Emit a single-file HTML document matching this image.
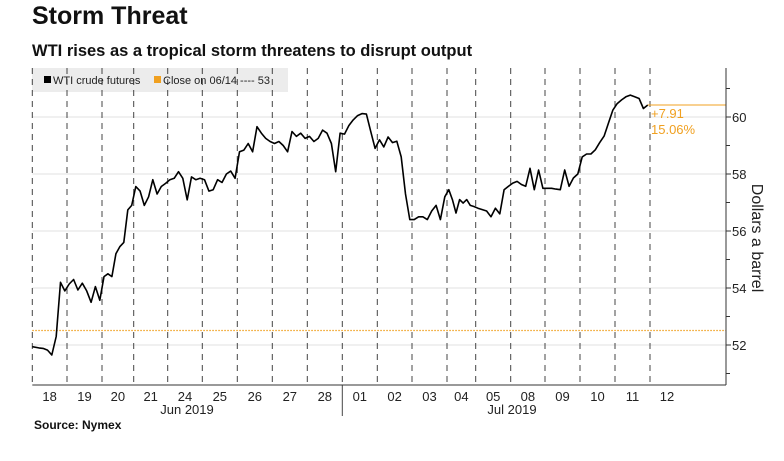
<!DOCTYPE html>
<html><head><meta charset="utf-8">
<style>
body{margin:0;background:#fff;font-family:"Liberation Sans",sans-serif;}
#wrap{position:relative;width:784px;height:461px;overflow:hidden;}
.t{position:absolute;white-space:nowrap;}
</style></head>
<body>
<div id="wrap">
<div class="t" style="left:32px;top:2px;font-size:25px;font-weight:bold;color:#111;">Storm Threat</div>
<div class="t" style="left:32px;top:42px;font-size:16.5px;font-weight:bold;color:#111;">WTI rises as a tropical storm threatens to disrupt output</div>
<div class="t" style="left:34px;top:418px;font-size:12px;font-weight:bold;color:#111;">Source: Nymex</div>
<svg id="chart" width="784" height="461" style="position:absolute;left:0;top:0"></svg>
</div>
<script>
const dayLabels=["18","19","20","21","24","25","26","27","28","01","02","03","04","05","08","09","10","11","12"];
const dayBounds=[32.3,67,102,133.7,167.7,202.3,237.3,272.3,307.3,342.3,377.3,412,447,475.7,510.7,545,580,615,650,684];
const priceByDay=[
[51.94,51.9,51.88,51.82,51.65,52.3,54.2,53.9],
[54.14,54.3,53.93,54.17,53.9,53.5,54.05,53.57],
[54.4,54.5,54.4,55.2,55.45,55.6,56.74,56.9],
[57.56,57.4,56.9,57.2,57.8,57.3,57.56,57.67],
[57.8,57.85,58.08,57.85,57.09,57.9,57.8,57.85],
[57.8,57.4,57.45,57.8,57.7,58.0,58.1,57.85],
[58.78,58.84,59.07,58.78,59.66,59.43,59.25,59.14],
[59.07,59.14,59.0,58.78,59.49,59.32,59.43,59.25],
[59.32,59.14,59.25,59.54,59.43,59.07,58.08,59.43],
[59.4,59.7,59.9,60.05,60.12,60.1,59.5,58.9],
[59.2,58.95,59.3,59.1,59.15,58.6,57.3,56.4],
[56.4,56.5,56.5,56.4,56.7,56.9,56.4,57.2],
[57.45,57.1,56.63,57.1,56.98,57.1,56.9,56.86],
[56.8,56.75,56.7,56.5,56.8,56.6,57.45,57.57],
[57.68,57.74,57.63,57.57,58.2,57.45,58.14,57.5],
[57.5,57.5,57.47,57.45,58.14,57.57,57.86,58.0],
[58.6,58.7,58.7,58.85,59.1,59.33,59.78,60.24],
[60.47,60.6,60.71,60.77,60.71,60.65,60.3,60.42]
];
const yTicks=[52,54,56,58,60];
const yMinor=[51,53,55,57,59,61];
const baseClose=52.51;
const lastClose=60.42;
const changeLabels=["+7.91","15.06%"];

const svg=document.getElementById('chart');
const NS='http://www.w3.org/2000/svg';
const L=32.3,R=726,T=68,B=385;
function y(v){return 345-(v-52)*28.5;}
function add(tag,attrs,text){const e=document.createElementNS(NS,tag);for(const k in attrs)e.setAttribute(k,attrs[k]);if(text!=null)e.textContent=text;svg.appendChild(e);return e;}

// gridlines
yTicks.forEach(v=>{
  const g=add('line',{x1:L,x2:R,y1:y(v),y2:y(v),stroke:'#e2e2e2','stroke-width':1});
  
  
});
// legend background
const lb=add('rect',{x:32,y:68,width:256,height:24,fill:'#ececec'});


// day separators
for(let i=0;i<dayBounds.length-1;i++){
  const x=dayBounds[i];
  const d=add('line',{x1:x,x2:x,y1:T,y2:B,stroke:'#444','stroke-width':1,'stroke-dasharray':'6,5'});
  
  
}
// month separator
const ms=add('line',{x1:342.3,x2:342.3,y1:B,y2:416,stroke:'#444','stroke-width':1});


// baseline dotted
const bl=add('line',{x1:L,x2:R,y1:y(baseClose),y2:y(baseClose),stroke:'#f0a020','stroke-width':1.2,'stroke-dasharray':'1.5,1.5'});


// price path
let pts=[];
priceByDay.forEach((arr,d)=>{
  const x0=dayBounds[d],x1=dayBounds[d+1];
  arr.forEach((v,j)=>{pts.push([x0+(x1-x0)*(j+0.5)/arr.length,y(v)]);});
});
pts[0][0]=dayBounds[0];
const p=add('path',{d:'M'+pts.map(q=>q[0].toFixed(1)+','+q[1].toFixed(1)).join('L'),fill:'none',stroke:'#000','stroke-width':1.6,'stroke-linejoin':'round'});


// last price line
const lastX=pts[pts.length-1][0];
const ll=add('line',{x1:lastX,x2:R,y1:y(lastClose),y2:y(lastClose),stroke:'#f0a020','stroke-width':1});


changeLabels.forEach((s,i)=>{
  const t=add('text',{x:651,y:118+i*16,fill:'#f0a020','font-size':13,'font-family':'Liberation Sans, sans-serif'},s);
  
  
});
// axes
const ax=add('line',{x1:L,x2:R,y1:B,y2:B,stroke:'#333','stroke-width':1});


const ay=add('line',{x1:R,x2:R,y1:T,y2:B,stroke:'#333','stroke-width':1});


yTicks.forEach(v=>{
  const tk=add('line',{x1:R,x2:R+5,y1:y(v),y2:y(v),stroke:'#333'});
  
  
  const tl=add('text',{x:R+6,y:y(v)+5,'font-size':13,fill:'#222','font-family':'Liberation Sans, sans-serif'},String(v));
  
  
});
yMinor.forEach(v=>{
  const tk=add('line',{x1:R,x2:R+4,y1:y(v),y2:y(v),stroke:'#333'});
  
  
});
dayLabels.forEach((s,i)=>{
  const cx=(dayBounds[i]+dayBounds[i+1])/2;
  const tl=add('text',{x:cx,y:401,'text-anchor':'middle','font-size':13,fill:'#222','font-family':'Liberation Sans, sans-serif'},s);
  
  
});
const m1=add('text',{x:187,y:414,'text-anchor':'middle','font-size':13,fill:'#222','font-family':'Liberation Sans, sans-serif'},'Jun 2019');


const m2=add('text',{x:512,y:414,'text-anchor':'middle','font-size':13,fill:'#222','font-family':'Liberation Sans, sans-serif'},'Jul 2019');


const yt=add('text',{x:0,y:0,transform:'translate(752,238) rotate(90)','text-anchor':'middle','font-size':16,fill:'#222','font-family':'Liberation Sans, sans-serif'},'Dollars a barrel');


// legend
const l1=add('rect',{x:44,y:76,width:7,height:7,fill:'#000'});


const lt1=add('text',{x:53,y:84,'font-size':11,fill:'#222','font-family':'Liberation Sans, sans-serif'},'WTI crude futures');


const l2=add('rect',{x:154,y:76,width:7,height:7,fill:'#f0a020'});


const lt2=add('text',{x:163,y:84,'font-size':11,fill:'#222','font-family':'Liberation Sans, sans-serif'},'Close on 06/14 ---- 53');


</script>
</body></html>
